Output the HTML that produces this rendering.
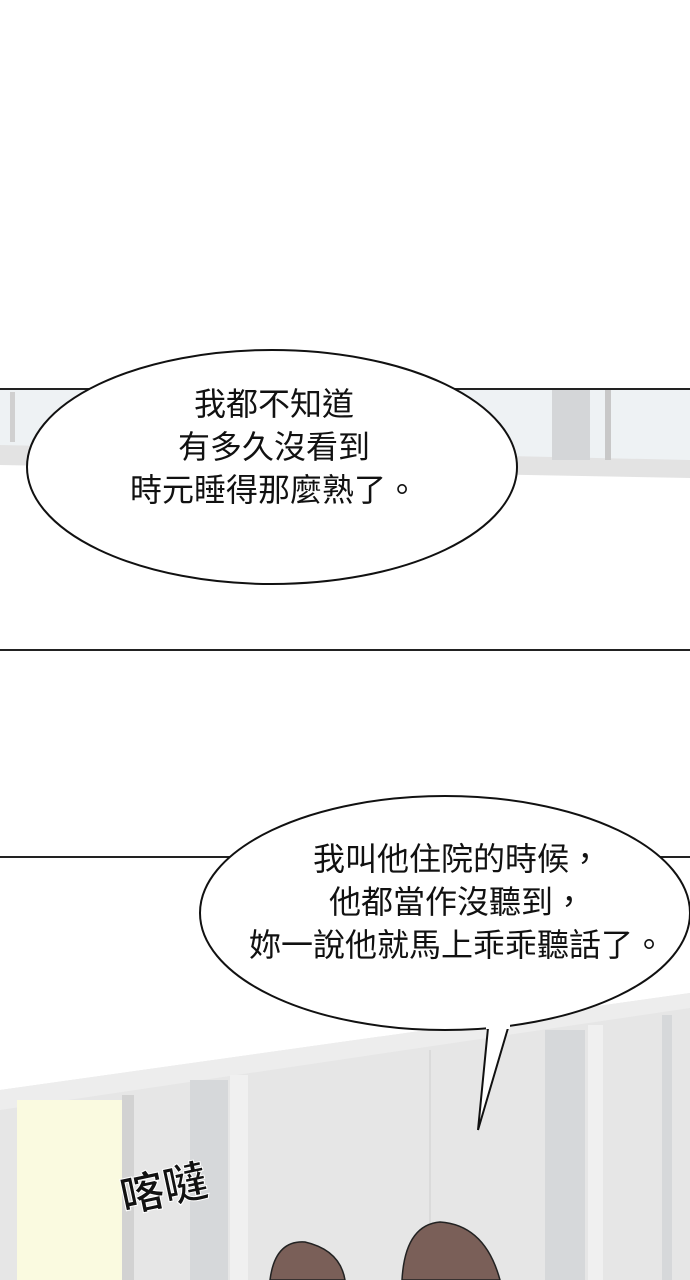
<!DOCTYPE html>
<html><head><meta charset="utf-8"><style>
html,body{margin:0;padding:0;background:#fff}
svg{display:block}
text{font-family:"Liberation Sans","Noto Sans CJK TC",sans-serif;fill:#111}
</style></head><body>
<svg width="690" height="1280" viewBox="0 0 690 1280" xmlns="http://www.w3.org/2000/svg">
<rect width="690" height="1280" fill="#fff"/>
<rect x="0" y="390" width="690" height="75" fill="#eef2f4"/>
<polygon points="0,445 690,460 690,478 0,465" fill="#e3e3e3"/>
<rect x="552" y="390" width="38" height="70" fill="#d4d6d8"/>
<rect x="605" y="390" width="6" height="70" fill="#c8c8c8"/>
<rect x="10" y="392" width="5" height="50" fill="#d0d0d0"/>
<line x1="0" y1="389" x2="690" y2="389" stroke="#222" stroke-width="2"/>
<line x1="0" y1="650" x2="690" y2="650" stroke="#222" stroke-width="2"/>
<ellipse cx="272" cy="467" rx="245" ry="117" fill="#fff" stroke="#111" stroke-width="2"/>
<g font-size="32" text-anchor="middle">
<text x="274" y="415">我都不知道</text>
<text x="274" y="458">有多久沒看到</text>
<text x="274" y="501">時元睡得那麼熟了。</text>
</g>
<polygon points="0,1090 690,993 690,1280 0,1280" fill="#e6e6e6"/>
<polygon points="0,1090 690,993 690,1008 0,1110" fill="#ededed"/>
<rect x="17" y="1100" width="105" height="180" fill="#fafae0"/>
<rect x="122" y="1095" width="12" height="185" fill="#d2d2d2"/>
<rect x="190" y="1080" width="38" height="200" fill="#d6d8da"/>
<rect x="230" y="1075" width="18" height="205" fill="#f0f0f0"/>
<line x1="430" y1="1050" x2="430" y2="1280" stroke="#cfcfcf" stroke-width="1"/>
<rect x="545" y="1030" width="40" height="250" fill="#d6d8da"/>
<rect x="588" y="1025" width="15" height="255" fill="#f0f0f0"/>
<rect x="662" y="1015" width="10" height="265" fill="#d6d8da"/>
<path d="M270,1280 Q275,1240 305,1242 Q340,1250 345,1280 Z" fill="#7a5f58" stroke="#222" stroke-width="1.5"/>
<path d="M402,1280 Q405,1225 440,1222 Q485,1225 500,1280 Z" fill="#7a5f58" stroke="#222" stroke-width="1.5"/>
<text x="120" y="1205" font-size="44" font-weight="bold" transform="rotate(-12 160 1190)" style="fill:#111;stroke:#fff;stroke-width:1">喀噠</text>
<line x1="0" y1="857" x2="690" y2="857" stroke="#222" stroke-width="2"/>
<ellipse cx="445" cy="913" rx="245" ry="117" fill="#fff" stroke="#111" stroke-width="2"/>
<polygon points="488,1028 478,1130 508,1028" fill="#fff" stroke="#111" stroke-width="2"/>
<rect x="486" y="1020" width="24" height="9" fill="#fff"/>
<g font-size="32" text-anchor="middle">
<text x="457" y="870">我叫他住院的時候，</text>
<text x="457" y="913">他都當作沒聽到，</text>
<text x="457" y="956">妳一說他就馬上乖乖聽話了。</text>
</g>
</svg>
</body></html>
